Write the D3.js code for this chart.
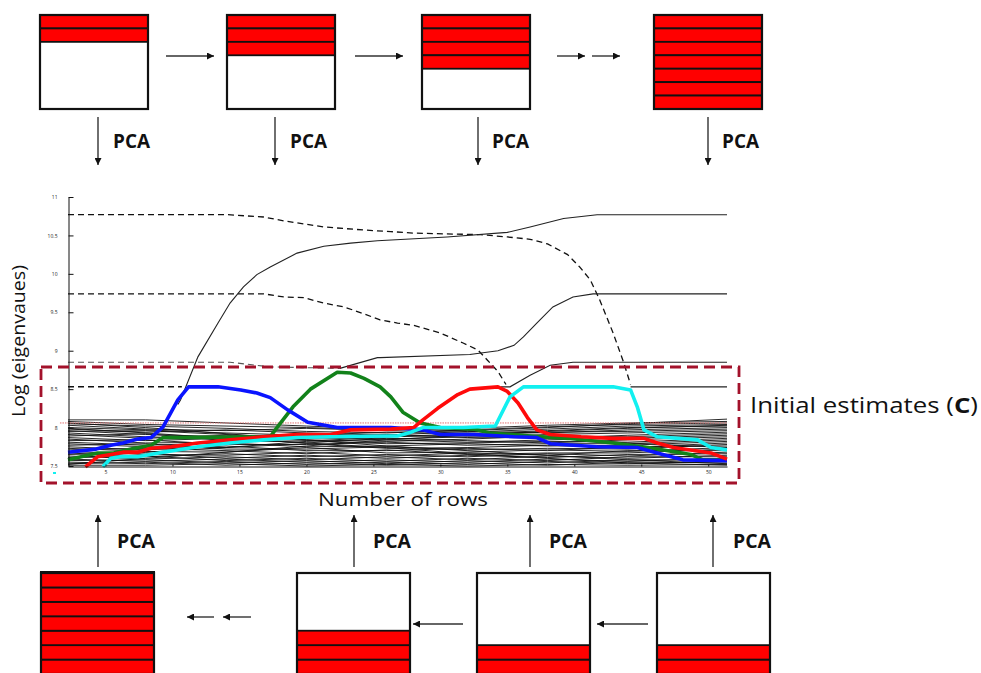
<!DOCTYPE html>
<html><head><meta charset="utf-8">
<script src="https://cdn.jsdelivr.net/npm/d3@7"></script>
<style>html,body{margin:0;padding:0;background:#fff;} svg{display:block;}</style>
</head><body>
<svg id="c" width="981" height="673"></svg>
<script>
// ---------------- data ----------------
const yTicks = [7.5, 8, 8.5, 9, 9.5, 10, 10.5, 11];
const xTicks = [5, 10, 15, 20, 25, 30, 35, 40, 45, 50];
const yTickLabels = ["7.5", "8", "8.5", "9", "9.5", "10", "10.5", "11"];

const topFilledRows = [2, 3, 4, 7];       // red rows in the forward (top) windows
const bottomFilledRows = [7, 3, 2, 2];    // red rows in the backward (bottom) windows
const rowsPerBox = 7;

// forward eigenvalue traces (dashed)
const dashed1 = [[2.2,10.77],[14.1,10.77],[16.8,10.74],[18.3,10.69],[21.3,10.61],[24.3,10.57],[26.3,10.55],[28.0,10.53],[33.0,10.51],[35.0,10.48],[36.7,10.45],[38.0,10.39],[39.5,10.25],[40.4,10.09],[41.2,9.92],[41.9,9.66],[42.9,9.23],[43.7,8.84],[44.2,8.56]];
const dashed2 = [[2.2,9.74],[16.8,9.74],[18.3,9.70],[19.8,9.69],[21.3,9.62],[22.8,9.57],[24.3,9.48],[25.5,9.40],[26.8,9.36],[28.0,9.33],[30.0,9.23],[31.7,9.10],[32.8,9.01],[33.5,8.88],[34.3,8.73],[34.9,8.56]];
const dashed3 = [[2.2,8.85],[14.3,8.85],[17.3,8.79],[22.5,8.77]];
const dashed4 = [[2.2,8.53],[10.7,8.53]];
// backward eigenvalue traces (solid)
const solid1 = [[10.4,8.30],[10.6,8.36],[11.9,8.92],[13.4,9.36],[14.3,9.62],[15.3,9.83],[16.3,9.99],[17.3,10.09],[19.3,10.27],[21.3,10.36],[23.3,10.40],[25.3,10.43],[30.5,10.48],[35.0,10.54],[36.7,10.61],[39.2,10.72],[41.7,10.77],[51.4,10.77]];
const solid2 = [[22.5,8.77],[25.3,8.91],[25.5,8.91],[32.2,8.95],[34.3,9.0],[35.5,9.07],[36.2,9.18],[37.2,9.36],[38.4,9.57],[39.9,9.70],[41.4,9.74],[51.4,9.74]];
const solid3 = [[34.5,8.53],[35.2,8.53],[36.7,8.68],[38.2,8.81],[39.9,8.85],[51.4,8.85]];
const solid4 = [[44.2,8.53],[51.4,8.53]];
const threshold = [[1.6,8.06],[51.4,8.06]];

// initial estimates (coloured)
const blueLine = [[2.2,7.68],[4.3,7.72],[5.4,7.77],[6.3,7.80],[7.4,7.85],[8.4,7.87],[9.3,8.01],[10.4,8.36],[11.2,8.53],[13.4,8.53],[15.1,8.49],[16.3,8.45],[17.3,8.39],[18.6,8.23],[20.1,8.07],[22.3,8.0],[26.3,8.0],[28.7,7.97],[30.0,7.91],[32.5,7.91],[35.5,7.88],[37.2,7.87],[38.2,7.79],[41.7,7.75],[44.7,7.74],[46.6,7.65],[48.1,7.58],[51.4,7.57]];
const greenLine = [[2.2,7.58],[4.4,7.67],[5.6,7.67],[6.9,7.72],[8.4,7.77],[9.3,7.87],[10.6,7.87],[17.3,7.88],[17.8,8.0],[19.0,8.27],[20.3,8.50],[22.3,8.72],[23.3,8.71],[24.3,8.64],[25.5,8.53],[26.3,8.40],[27.2,8.20],[28.5,8.06],[30.0,8.0],[32.5,7.98],[33.7,7.93],[37.5,7.88],[39.5,7.86],[42.9,7.80],[45.5,7.74],[48.7,7.65],[49.6,7.58],[51.4,7.58]];
const redLine = [[3.5,7.49],[4.4,7.62],[5.4,7.65],[6.3,7.68],[7.4,7.68],[8.4,7.73],[9.9,7.75],[11.9,7.80],[14.3,7.84],[16.8,7.88],[19.3,7.91],[21.8,7.91],[23.3,7.97],[26.3,7.98],[28.0,8.0],[28.7,8.10],[29.8,8.25],[31.3,8.43],[32.2,8.50],[34.3,8.53],[35.0,8.47],[35.8,8.32],[36.5,8.13],[37.2,7.97],[38.2,7.91],[40.5,7.88],[42.9,7.86],[45.2,7.86],[46.2,7.80],[47.4,7.74],[50.2,7.67],[51.4,7.59]];
const cyanLine = [[4.8,7.49],[5.4,7.60],[6.1,7.62],[7.4,7.62],[9.3,7.68],[11.9,7.75],[14.3,7.80],[16.8,7.84],[19.3,7.87],[21.8,7.88],[26.3,7.89],[26.8,7.89],[27.8,7.94],[28.7,8.0],[31.7,8.0],[34.1,8.02],[35.2,8.40],[36.2,8.53],[42.9,8.53],[44.2,8.49],[44.7,8.27],[45.2,7.97],[46.2,7.88],[49.2,7.84],[50.2,7.74],[51.4,7.71]];

// bundle of small (noise) eigenvalues
const bundleX = [2.2, 8, 14, 20, 26, 32, 38, 44, 51.4];
const bundleValues = [
 [8.10,8.10,8.06,8.02,7.98,7.96,8.00,8.05,8.11],
 [8.08,8.04,8.02,8.00,7.97,7.99,8.03,8.06,8.08],
 [8.05,8.02,7.99,7.95,7.93,7.97,8.01,8.04,8.06],
 [8.03,7.98,7.96,7.99,7.96,7.94,7.98,8.02,8.04],
 [8.00,7.97,7.93,7.90,7.94,7.92,7.96,8.00,8.02],
 [7.98,7.94,7.97,7.93,7.90,7.95,7.93,7.97,8.00],
 [7.96,7.91,7.88,7.92,7.88,7.90,7.94,7.95,7.98],
 [7.95,7.96,7.91,7.86,7.91,7.87,7.91,7.93,7.96],
 [7.93,7.88,7.85,7.89,7.85,7.88,7.86,7.90,7.94],
 [7.91,7.86,7.90,7.84,7.82,7.85,7.89,7.88,7.92],
 [7.89,7.92,7.83,7.87,7.84,7.81,7.84,7.86,7.90],
 [7.87,7.83,7.86,7.80,7.86,7.83,7.80,7.84,7.88],
 [7.85,7.80,7.81,7.83,7.79,7.80,7.82,7.81,7.86],
 [7.83,7.84,7.78,7.78,7.81,7.77,7.79,7.79,7.84],
 [7.81,7.77,7.80,7.75,7.76,7.79,7.76,7.77,7.82],
 [7.79,7.75,7.74,7.79,7.73,7.74,7.77,7.74,7.80],
 [7.77,7.79,7.72,7.72,7.75,7.71,7.73,7.72,7.78],
 [7.75,7.71,7.76,7.70,7.70,7.73,7.70,7.75,7.76],
 [7.73,7.69,7.68,7.74,7.67,7.68,7.71,7.69,7.74],
 [7.71,7.73,7.70,7.66,7.71,7.65,7.67,7.67,7.72],
 [7.69,7.65,7.64,7.68,7.63,7.67,7.64,7.70,7.70],
 [7.67,7.62,7.66,7.62,7.65,7.62,7.66,7.63,7.68],
 [7.65,7.67,7.60,7.64,7.60,7.64,7.61,7.65,7.66],
 [7.63,7.59,7.62,7.58,7.62,7.58,7.63,7.60,7.64],
 [7.61,7.63,7.57,7.60,7.56,7.60,7.57,7.62,7.62],
 [7.59,7.56,7.59,7.55,7.58,7.55,7.59,7.56,7.60],
 [7.57,7.58,7.54,7.57,7.53,7.57,7.54,7.58,7.58],
 [7.55,7.53,7.56,7.52,7.55,7.52,7.56,7.53,7.56],
 [7.53,7.55,7.51,7.54,7.51,7.54,7.51,7.55,7.54],
 [7.51,7.51,7.53,7.50,7.52,7.50,7.52,7.51,7.52],
 [8.06,8.00,7.92,7.84,7.76,7.70,7.64,7.58,7.53],
 [7.52,7.60,7.68,7.76,7.84,7.90,7.95,7.99,8.03],
 [7.99,7.93,7.86,7.80,7.74,7.66,7.60,7.54,7.51],
 [7.60,7.68,7.74,7.82,7.88,7.92,7.87,7.80,7.74]
];

// ---------------- drawing ----------------
const svg = d3.select("#c");
const FONT = "'Open Sans', 'DejaVu Sans', sans-serif";

const defs = svg.append("defs");
defs.append("marker").attr("id","ah").attr("viewBox","0 0 10 10")
  .attr("refX",10).attr("refY",5).attr("markerWidth",8).attr("markerHeight",7)
  .attr("markerUnits","userSpaceOnUse").attr("orient","auto")
  .append("path").attr("d","M0,0L10,5L0,10z").attr("fill","#111");

function arrow(x1,y1,x2,y2){
  svg.append("line").attr("x1",x1).attr("y1",y1).attr("x2",x2).attr("y2",y2)
    .attr("stroke","#333").attr("stroke-width",1.4).attr("marker-end","url(#ah)");
}

function box(x, y, w, h, filled, fromTop){
  const g = svg.append("g");
  const rh = h / rowsPerBox;
  const ys = d3.range(filled).map(i => fromTop ? y + i*rh : y + h - (i+1)*rh);
  g.selectAll("rect.r").data(ys).enter().append("rect")
    .attr("x", x).attr("y", d => d).attr("width", w).attr("height", rh)
    .attr("fill", "#ff0000").attr("stroke", "#111").attr("stroke-width", 1.8);
  g.append("rect").attr("x",x).attr("y",y).attr("width",w).attr("height",h)
    .attr("fill","none").attr("stroke","#111").attr("stroke-width",2.2);
}

// top row of windows
const topBoxX = [40, 227, 422, 654];
topFilledRows.forEach((n,i) => box(topBoxX[i], 15, 108, 94, n, true));
// bottom row of windows
const botBoxX = [41, 297, 477, 657];
bottomFilledRows.forEach((n,i) => box(botBoxX[i], 573, 113, 101, n, false));
// thicker top of first bottom box
svg.append("line").attr("x1",40).attr("x2",155).attr("y1",572.5).attr("y2",572.5).attr("stroke","#111").attr("stroke-width",3);

// horizontal arrows (top)
arrow(166,56,214,56);
arrow(355,56,403,56);
arrow(557,56,585,56);
arrow(592,56,620,56);
// down arrows
[98,275,478,708].forEach(x => arrow(x,117,x,165));
// horizontal arrows (bottom, leftwards)
arrow(214,617,187,617);
arrow(251,617,223,617);
arrow(463,624,413,624);
arrow(648,624,597,624);
// up arrows
[98,354,530,713].forEach(x => arrow(x,567,x,515));

// PCA labels
const pcaTop = [113, 290, 492, 722];
pcaTop.forEach(x => svg.append("text").attr("x",x).attr("y",148).text("PCA")
  .attr("font-family",FONT).attr("font-weight","bold").attr("font-size",19)
  .attr("textLength",37).attr("lengthAdjust","spacingAndGlyphs").attr("fill","#111"));
const pcaBot = [117, 373, 549, 733];
pcaBot.forEach(x => svg.append("text").attr("x",x).attr("y",548).text("PCA")
  .attr("font-family",FONT).attr("font-weight","bold").attr("font-size",19)
  .attr("textLength",38).attr("lengthAdjust","spacingAndGlyphs").attr("fill","#111"));

// ---------- chart ----------
const x = d3.scaleLinear().domain([2.2, 51.4]).range([68, 727]);
const y = d3.scaleLinear().domain([7.5, 11]).range([466, 197]);
const line = d3.line().x(d => x(d[0])).y(d => y(d[1]));

const plot = svg.append("g");

// noise bundle
bundleValues.forEach(vals => {
  plot.append("path").datum(vals.map((v,i) => [bundleX[i], v]))
    .attr("d", line).attr("fill","none").attr("stroke","#111").attr("stroke-width",0.9);
});

// threshold dotted
plot.append("path").datum(threshold).attr("d", line).attr("fill","none")
  .attr("stroke","#e07070").attr("stroke-width",1).attr("stroke-dasharray","1.5,1");

// dashed forward traces
[[dashed1,"#111",1.3],[dashed2,"#111",1.3],[dashed3,"#555",1.1],[dashed4,"#111",1.5]].forEach(([d,c,w]) => {
  plot.append("path").datum(d).attr("d", line).attr("fill","none")
    .attr("stroke",c).attr("stroke-width",w).attr("stroke-dasharray","6,4");
});
// solid backward traces
[solid1, solid2, solid3, solid4].forEach(d => {
  plot.append("path").datum(d).attr("d", line).attr("fill","none")
    .attr("stroke","#222").attr("stroke-width",1.1);
});

// coloured initial estimates
[[greenLine,"#12821a"],[blueLine,"#0a14ff"],[redLine,"#ff0a0a"],[cyanLine,"#12f0f0"]].forEach(([d,c]) => {
  plot.append("path").datum(d).attr("d", line).attr("fill","none")
    .attr("stroke",c).attr("stroke-width",3.6).attr("stroke-linejoin","round");
});

// axes
const yAxis = d3.axisLeft(y).tickValues(yTicks).tickSizeInner(-5).tickSizeOuter(0).tickPadding(11)
  .tickFormat((d,i) => yTickLabels[i]);
const gy = svg.append("g").attr("transform","translate(68.5,0)").call(yAxis);
gy.selectAll("text").attr("font-size",5).attr("font-family",FONT).attr("fill","#222");
gy.selectAll("line,path").attr("stroke","#111");

const xAxis = d3.axisBottom(x).tickValues(xTicks).tickSizeInner(-2).tickSizeOuter(0).tickPadding(4);
const gx = svg.append("g").attr("transform","translate(0,466.5)").call(xAxis);
gx.selectAll("text").attr("font-size",5).attr("font-family",FONT).attr("fill","#222");
gx.selectAll("line,path").attr("stroke","#111");

// small cyan legend mark
svg.append("rect").attr("x",53).attr("y",472).attr("width",3).attr("height",2).attr("fill","#12f0f0");

// red dashed frame of initial estimates
svg.append("rect").attr("x",41).attr("y",367).attr("width",698).attr("height",116)
  .attr("fill","none").attr("stroke","#a3122b").attr("stroke-width",2.8).attr("stroke-dasharray","11,6");

// axis titles
svg.append("text").attr("transform","translate(25,341) rotate(-90)").attr("text-anchor","middle")
  .attr("font-family",FONT).attr("font-size",18).attr("fill","#111")
  .attr("textLength",152).attr("lengthAdjust","spacingAndGlyphs").text("Log (eigenvaues)");
svg.append("text").attr("x",318).attr("y",506).attr("font-family",FONT).attr("font-size",18.5)
  .attr("fill","#111").attr("textLength",170).attr("lengthAdjust","spacingAndGlyphs").text("Number of rows");

const ie = svg.append("text").attr("x",750).attr("y",413).attr("font-family",FONT).attr("font-size",22)
  .attr("fill","#111").attr("textLength",228).attr("lengthAdjust","spacingAndGlyphs");
ie.append("tspan").text("Initial estimates (");
ie.append("tspan").attr("font-weight","bold").text("C");
ie.append("tspan").text(")");
</script></body></html>
